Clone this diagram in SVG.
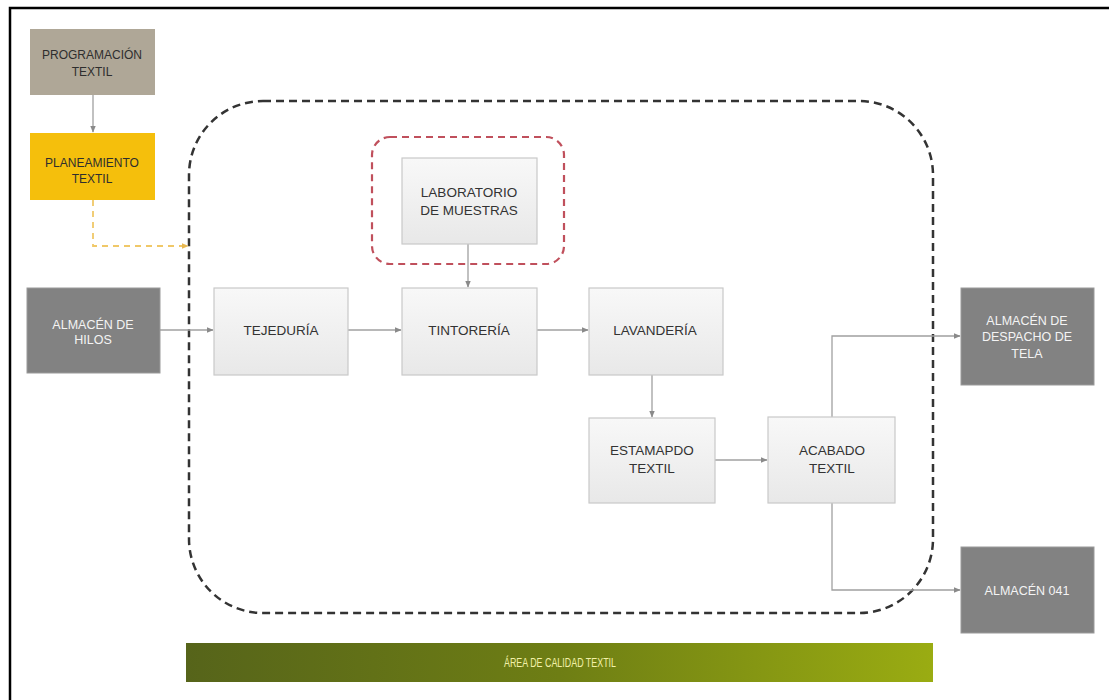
<svg xmlns="http://www.w3.org/2000/svg" width="1109" height="700" viewBox="0 0 1109 700">
<defs>
<linearGradient id="gLight" x1="0" y1="0" x2="0" y2="1">
<stop offset="0" stop-color="#f8f8f8"/><stop offset="1" stop-color="#e8e8e8"/>
</linearGradient>
<linearGradient id="gGreen" x1="0" y1="0" x2="1" y2="0">
<stop offset="0" stop-color="#56641a"/><stop offset="0.5" stop-color="#6e7e14"/><stop offset="1" stop-color="#9aac12"/>
</linearGradient>
<marker id="arr" viewBox="0 0 10 10" refX="9" refY="5" markerWidth="7" markerHeight="7" markerUnits="userSpaceOnUse" orient="auto">
<path d="M0,1 L10,5 L0,9 z" fill="#8a8a8a"/>
</marker>
<marker id="arrY" viewBox="0 0 10 10" refX="9" refY="5" markerWidth="7" markerHeight="7" markerUnits="userSpaceOnUse" orient="auto">
<path d="M0,1 L10,5 L0,9 z" fill="#e8b850"/>
</marker>
</defs>
<style>
text{font-family:"Liberation Sans",Arial,sans-serif;text-anchor:middle}
.light{fill:url(#gLight);stroke:#c9c9c9;stroke-width:1.2}
.dark{fill:#828282;stroke:#9a9a9a;stroke-width:1}
.tl{fill:#333333;font-size:13.5px}
.tw{fill:#f4f4f4;font-size:12.5px}
.ts{fill:#2e2e2e;font-size:12px}
.con{fill:none;stroke:#a0a0a0;stroke-width:1.3}
</style>
<rect width="1109" height="700" fill="#ffffff"/>
<path d="M10,700 L10,8 L1109,8" fill="none" stroke="#000" stroke-width="2.5"/>

<g id="area-proceso">
<rect x="189" y="101" width="744" height="512" rx="74" ry="74" fill="none" stroke="#333" stroke-width="2.5" stroke-dasharray="8,5"/>
</g>
<g id="area-laboratorio">
<rect x="372" y="137" width="192" height="127" rx="18" ry="18" fill="none" stroke="#c0505c" stroke-width="2.2" stroke-dasharray="7,5"/>
</g>

<g id="connectors">
<line class="con" x1="93" y1="95" x2="93" y2="132" marker-end="url(#arr)"/>
<polyline points="93,200 93,246 188,246" fill="none" stroke="#f0c868" stroke-width="1.8" stroke-dasharray="6,5" marker-end="url(#arrY)"/>
<line class="con" x1="160" y1="330" x2="213" y2="330" marker-end="url(#arr)"/>
<line class="con" x1="348" y1="330" x2="401" y2="330" marker-end="url(#arr)"/>
<line class="con" x1="537" y1="330" x2="588" y2="330" marker-end="url(#arr)"/>
<line class="con" x1="468" y1="244" x2="468" y2="287" marker-end="url(#arr)"/>
<line class="con" x1="652" y1="375" x2="652" y2="417" marker-end="url(#arr)"/>
<line class="con" x1="715" y1="460" x2="767" y2="460" marker-end="url(#arr)"/>
<polyline class="con" points="832,417 832,336 960,336" marker-end="url(#arr)"/>
<polyline class="con" points="832,503 832,590 960,590" marker-end="url(#arr)"/>
</g>

<g id="programacion">
<rect x="30" y="29" width="125" height="66" fill="#afa797"/>
<text class="ts" x="92" y="59">PROGRAMACIÓN</text>
<text class="ts" x="92" y="76">TEXTIL</text>
</g>
<g id="planeamiento">
<rect x="30" y="133" width="125" height="67" fill="#f5bf0c"/>
<text class="ts" x="92" y="167">PLANEAMIENTO</text>
<text class="ts" x="92" y="183">TEXTIL</text>
</g>
<g id="almacen-hilos">
<rect class="dark" x="27" y="288" width="133" height="85"/>
<text class="tw" x="93" y="329">ALMACÉN DE</text>
<text class="tw" x="93" y="344">HILOS</text>
</g>
<g id="tejeduria">
<rect class="light" x="214" y="288" width="134" height="87"/>
<text class="tl" x="281" y="335">TEJEDURÍA</text>
</g>
<g id="laboratorio">
<rect class="light" x="402" y="158" width="135" height="86"/>
<text class="tl" x="469" y="197">LABORATORIO</text>
<text class="tl" x="469" y="215">DE MUESTRAS</text>
</g>
<g id="tintoreria">
<rect class="light" x="402" y="288" width="135" height="87"/>
<text class="tl" x="469" y="335">TINTORERÍA</text>
</g>
<g id="lavanderia">
<rect class="light" x="589" y="288" width="134" height="87"/>
<text class="tl" x="655" y="335">LAVANDERÍA</text>
</g>
<g id="estampado">
<rect class="light" x="589" y="418" width="126" height="85"/>
<text class="tl" x="652" y="455">ESTAMAPDO</text>
<text class="tl" x="652" y="473">TEXTIL</text>
</g>
<g id="acabado">
<rect class="light" x="768" y="417" width="127" height="86"/>
<text class="tl" x="832" y="455">ACABADO</text>
<text class="tl" x="832" y="473">TEXTIL</text>
</g>
<g id="almacen-despacho">
<rect class="dark" x="961" y="288" width="133" height="97"/>
<text class="tw" x="1027" y="325">ALMACÉN DE</text>
<text class="tw" x="1027" y="341">DESPACHO DE</text>
<text class="tw" x="1027" y="358">TELA</text>
</g>
<g id="almacen-041">
<rect class="dark" x="961" y="547" width="133" height="86"/>
<text class="tw" x="1027" y="595">ALMACÉN 041</text>
</g>
<g id="area-calidad">
<rect x="186" y="643" width="747" height="39" fill="url(#gGreen)"/>
<text x="560" y="667" fill="#f2f0a8" font-size="13" textLength="112" lengthAdjust="spacingAndGlyphs">ÁREA  DE CALIDAD TEXTIL</text>
</g>
</svg>
